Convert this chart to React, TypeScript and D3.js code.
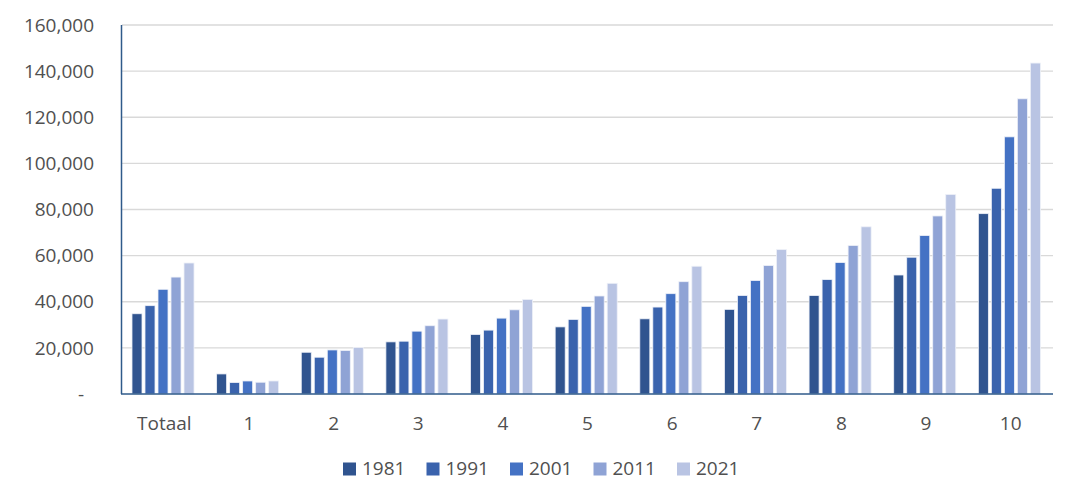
import React from "react"
import * as d3 from "d3"

const categories = ["Totaal", "1", "2", "3", "4", "5", "6", "7", "8", "9", "10"]
const years = ["1981", "1991", "2001", "2011", "2021"]

const values1981 = [34800, 8700, 18100, 22600, 25800, 29100, 32600, 36700, 42700, 51600, 78200]
const values1991 = [38300, 4950, 15950, 22900, 27700, 32350, 37700, 42700, 49600, 59300, 89200]
const values2001 = [45400, 5650, 19100, 27250, 32900, 38000, 43500, 49200, 57000, 68700, 111500]
const values2011 = [50700, 5100, 18850, 29600, 36500, 42500, 48700, 55700, 64400, 77200, 128000]
const values2021 = [56800, 5650, 20150, 32500, 41000, 48000, 55400, 62600, 72500, 86500, 143500]

const yTicks = [0, 20000, 40000, 60000, 80000, 100000, 120000, 140000, 160000]

const seriesValues = [values1981, values1991, values2001, values2011, values2021]
const colors = ["#30548f", "#3a63ad", "#4472c4", "#8fa3d5", "#b9c4e3"]

const WIDTH = 1077
const HEIGHT = 504
const margin = { top: 25, right: 24, bottom: 110, left: 122 }
const FONT = "'Open Sans', 'Liberation Sans', sans-serif"
const TEXT_COLOR = "#505050"
const AXIS_COLOR = "#2f5a8a"

export default function App() {
  const xScale = d3.scaleBand<string>().domain(categories).range([margin.left, WIDTH - margin.right])
  const bw = xScale.bandwidth()
  const inner = d3
    .scaleBand<string>()
    .domain(years)
    .range([bw * 0.118, bw * 0.851])
    .paddingInner(0.23)
  const yScale = d3.scaleLinear().domain([0, 160000]).range([394, margin.top])
  const fmt = d3.format(",")

  const legendX = d3.scaleBand<string>().domain(years).range([343, 343 + 83.5 * 5])

  return (
    <svg
      width={WIDTH}
      height={HEIGHT}
      style={{ position: "absolute", left: 0, top: 0, background: "#fff" }}
      fontFamily={FONT}
    >
      {/* gridlines */}
      {yTicks
        .filter((t) => t > 0)
        .map((t) => (
          <line
            key={"g" + t}
            x1={margin.left}
            x2={WIDTH - margin.right}
            y1={yScale(t)}
            y2={yScale(t)}
            stroke="#d9d9d9"
            strokeWidth={1.3}
          />
        ))}

      {/* y tick labels */}
      {yTicks.map((t) => (
        <text
          key={"t" + t}
          x={t === 0 ? 84 : 94}
          y={yScale(t)}
          dy="0.35em"
          textAnchor="end"
          fontSize={19}
          fill={TEXT_COLOR}
        >
          {t === 0 ? "-" : fmt(t)}
        </text>
      ))}

      {/* bars */}
      {categories.map((c, ci) => (
        <g key={c} transform={`translate(${xScale(c)},0)`}>
          {years.map((yr, yi) => {
            const v = seriesValues[yi][ci]
            return (
              <rect
                key={yr}
                x={inner(yr)}
                y={yScale(v)}
                width={inner.bandwidth()}
                height={yScale(0) - yScale(v)}
                fill={colors[yi]}
                stroke="#eef1f8"
                strokeWidth={0.8}
              />
            )
          })}
        </g>
      ))}

      {/* axes */}
      <line x1={margin.left - 0.5} x2={margin.left - 0.5} y1={margin.top} y2={yScale(0)} stroke={AXIS_COLOR} strokeWidth={1.5} />
      <line x1={margin.left - 1} x2={WIDTH - margin.right} y1={yScale(0)} y2={yScale(0)} stroke={AXIS_COLOR} strokeWidth={1.5} />

      {/* category labels */}
      {categories.map((c) => (
        <text
          key={"c" + c}
          x={(xScale(c) ?? 0) + bw / 2}
          y={423}
          dy="0.35em"
          textAnchor="middle"
          fontSize={19}
          fill={TEXT_COLOR}
        >
          {c}
        </text>
      ))}

      {/* legend */}
      {years.map((yr, yi) => (
        <g key={"l" + yr} transform={`translate(${legendX(yr)},468)`}>
          <rect x={0} y={-5.5} width={13} height={13} fill={colors[yi]} />
          <text x={19} y={0} dy="0.35em" fontSize={19} fill={TEXT_COLOR}>
            {yr}
          </text>
        </g>
      ))}
    </svg>
  )
}
